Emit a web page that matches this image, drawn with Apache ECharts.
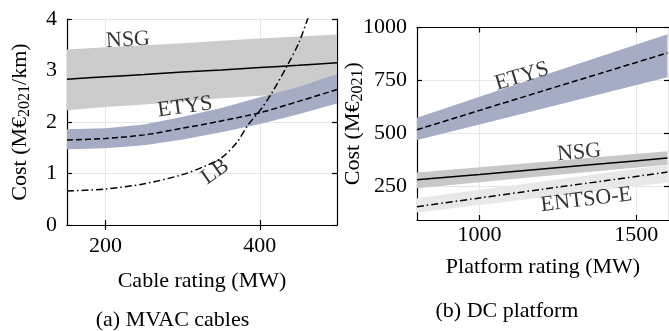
<!DOCTYPE html>
<html><head><meta charset="utf-8">
<script src="https://cdn.jsdelivr.net/npm/echarts@6/dist/echarts.min.js"></script>
<style>html,body{margin:0;padding:0;background:#fff}#c{width:669px;height:331px}</style>
</head><body><div id="c"></div>
<script>
// ---- (a) MVAC cables ----
const cableRating = [150, 200, 250, 300, 350, 400, 450, 500];
const nsgCable = [2.83, 2.88, 2.92, 2.97, 3.01, 3.06, 3.10, 3.15];
const nsgCableUpper = [3.41, 3.45, 3.49, 3.53, 3.58, 3.62, 3.66, 3.70];
const nsgCableLower = [2.23, 2.29, 2.34, 2.40, 2.46, 2.51, 2.57, 2.62];
const etysCable = [1.65, 1.68, 1.75, 1.88, 2.02, 2.18, 2.40, 2.63];
const etysCableUpper = [1.86, 1.88, 1.95, 2.10, 2.27, 2.48, 2.68, 2.93];
const etysCableLower = [1.47, 1.49, 1.55, 1.66, 1.80, 1.96, 2.15, 2.36];
const lbRating = [150, 200, 250, 300, 330, 350, 370, 385, 400, 415, 435, 450, 462, 475];
const lbCable = [0.66, 0.70, 0.80, 0.98, 1.15, 1.30, 1.60, 1.95, 2.22, 2.55, 3.08, 3.52, 4.0, 4.5];
const cableTicksX = [200, 400];
const cableTicksY = [0, 1, 2, 3, 4];
const cableNotes = [[229, 3.59, 'NSG', 3], [303, 2.29, 'ETYS', 8], [342, 1.03, 'LB', 35]];

// ---- (b) DC platform ----
const platformRating = [800, 1000, 1200, 1400, 1600];
const etysPlat = [518, 609, 700, 790, 880];
const etysPlatUpper = [574, 673, 772, 870, 968];
const etysPlatLower = [469, 543, 617, 691, 765];
const nsgPlat = [282, 307, 333, 358, 384];
const nsgPlatUpper = [316, 341, 366, 391, 416];
const nsgPlatLower = [242, 270, 298, 325, 353];
const entsoPlat = [155, 196, 237, 277, 318];
const entsoPlatUpper = [195, 235, 274, 314, 353];
const entsoPlatLower = [127, 163, 198, 234, 269];
const platTicksX = [1000, 1500];
const platTicksY = [250, 500, 750, 1000];
const platNotes = [[1135, 769, 'ETYS', 17], [1318, 410, 'NSG', 5], [1341, 187, 'ENTSO-E', 7]];

const FONT = 'Liberation Serif';
const FS = 22;
const zip = (xs, ys) => xs.map((x, i) => [x, ys[i]]);

// band drawn as one polygon through the axis scales
function band(xs, lower, upper, color, axis) {
  return { type: 'custom', xAxisIndex: axis, yAxisIndex: axis, silent: true, clip: true,
    data: [0],
    renderItem: (params, api) => {
      const pts = xs.map((x, i) => api.coord([x, upper[i]]))
        .concat(xs.slice().reverse().map((x, j) => api.coord([x, lower[xs.length - 1 - j]])));
      return { type: 'polygon', shape: { points: pts }, style: { fill: color, stroke: null } };
    } };
}
function curve(xs, ys, type, axis) {
  return { type: 'line', xAxisIndex: axis, yAxisIndex: axis, data: zip(xs, ys), symbol: 'none',
    smooth: 0.3, silent: true, z: 3, lineStyle: { color: '#000', width: 1.5, type: type } };
}
function notes(list, axis) {
  return { type: 'scatter', xAxisIndex: axis, yAxisIndex: axis, symbolSize: 0, silent: true, z: 5,
    data: list.map(n => ({ value: [n[0], n[1]],
      label: { show: true, formatter: n[2], rotate: n[3], position: 'inside',
        fontFamily: FONT, fontSize: FS, color: '#000' } })) };
}

const axisLine = { show: true, lineStyle: { color: '#000', width: 1.2 } };
const tick = vals => ({ show: true, inside: true, length: 5, lineStyle: { color: '#000', width: 1.2 }, customValues: vals });
const grid = { show: true, lineStyle: { color: '#e6e6e6', width: 1 } };
const lbl = (vals, m) => ({ show: true, customValues: vals, fontFamily: FONT, fontSize: FS, color: '#000', margin: m,
  formatter: v => String(v) });
const nameStyle = { fontFamily: FONT, fontSize: FS, color: '#000' };
const yNameStyle = { fontFamily: FONT, fontSize: FS, color: '#000',
  rich: { a: { fontFamily: FONT, fontSize: FS, color: '#000', lineHeight: 25 },
          s: { fontFamily: FONT, fontSize: 16, color: '#000', lineHeight: 16, verticalAlign: 'bottom' } } };

const chart = echarts.init(document.getElementById('c'), null, { renderer: 'canvas' });
chart.setOption({
  animation: false,
  backgroundColor: '#fff',
  grid: [
    { left: 67, top: 19, width: 270, height: 206 },
    { left: 417, top: 27.5, right: -1, height: 192.5 }
  ],
  xAxis: [
    { gridIndex: 0, type: 'value', min: 150, max: 500, position: 'bottom', axisLine, axisTick: tick(cableTicksX),
      axisLabel: lbl(cableTicksX, 10), splitLine: grid, name: 'Cable rating (MW)', nameLocation: 'middle',
      nameGap: 45, nameMoveOverlap: false, nameTextStyle: nameStyle },
    { gridIndex: 0, type: 'value', min: 150, max: 500, position: 'top', axisLine, axisTick: tick(cableTicksX),
      axisLabel: { show: false }, splitLine: { show: false } },
    { gridIndex: 1, type: 'value', min: 800, max: 1605, position: 'bottom', axisLine, axisTick: tick(platTicksX),
      axisLabel: lbl(platTicksX, 4), splitLine: grid, name: 'Platform rating (MW)', nameLocation: 'middle',
      nameGap: 36, nameMoveOverlap: false, nameTextStyle: nameStyle },
    { gridIndex: 1, type: 'value', min: 800, max: 1605, position: 'top', axisLine, axisTick: tick(platTicksX),
      axisLabel: { show: false }, splitLine: { show: false } }
  ],
  yAxis: [
    { gridIndex: 0, type: 'value', min: 0, max: 4, position: 'left', axisLine, axisTick: tick(cableTicksY),
      axisLabel: lbl(cableTicksY, 10), splitLine: grid, name: '{a|Cost (M€}{s|2021}{a|/km)}',
      nameLocation: 'middle', nameGap: 34, nameMoveOverlap: false, nameTextStyle: yNameStyle },
    { gridIndex: 0, type: 'value', min: 0, max: 4, position: 'right', axisLine, axisTick: tick(cableTicksY),
      axisLabel: { show: false }, splitLine: { show: false } },
    { gridIndex: 1, type: 'value', min: 92, max: 1000, position: 'left', axisLine, axisTick: tick(platTicksY),
      axisLabel: lbl(platTicksY, 10), splitLine: grid, name: '{a|Cost (M€}{s|2021}{a|)}',
      nameLocation: 'middle', nameGap: 51, nameMoveOverlap: false, nameTextStyle: yNameStyle },
    { gridIndex: 1, type: 'value', min: 92, max: 1000, position: 'right', axisLine, axisTick: tick(platTicksY),
      axisLabel: { show: false }, splitLine: { show: false } }
  ],
  series: [
    band(cableRating, nsgCableLower, nsgCableUpper, '#cccccc', 0),
    band(cableRating, etysCableLower, etysCableUpper, '#a5acc4', 0),
    curve(cableRating, nsgCable, 'solid', 0),
    curve(cableRating, etysCable, [6, 3], 0),
    curve(lbRating, lbCable, [7, 3, 1.5, 3], 0),
    notes(cableNotes, 0),
    band(platformRating, etysPlatLower, etysPlatUpper, '#a5acc4', 2),
    band(platformRating, nsgPlatLower, nsgPlatUpper, '#c8c8c8', 2),
    band(platformRating, entsoPlatLower, entsoPlatUpper, '#e8e8e8', 2),
    curve(platformRating, etysPlat, [6, 3], 2),
    curve(platformRating, nsgPlat, 'solid', 2),
    curve(platformRating, entsoPlat, [7, 3, 1.5, 3], 2),
    notes(platNotes, 2)
  ],
  graphic: [
    { type: 'text', x: 172.5, y: 320, style: { text: '(a) MVAC cables', fontFamily: FONT, fontSize: FS, fill: '#000', textAlign: 'center', textVerticalAlign: 'middle' } },
    { type: 'text', x: 507, y: 311, style: { text: '(b) DC platform', fontFamily: FONT, fontSize: FS, fill: '#000', textAlign: 'center', textVerticalAlign: 'middle' } }
  ]
});
</script></body></html>
